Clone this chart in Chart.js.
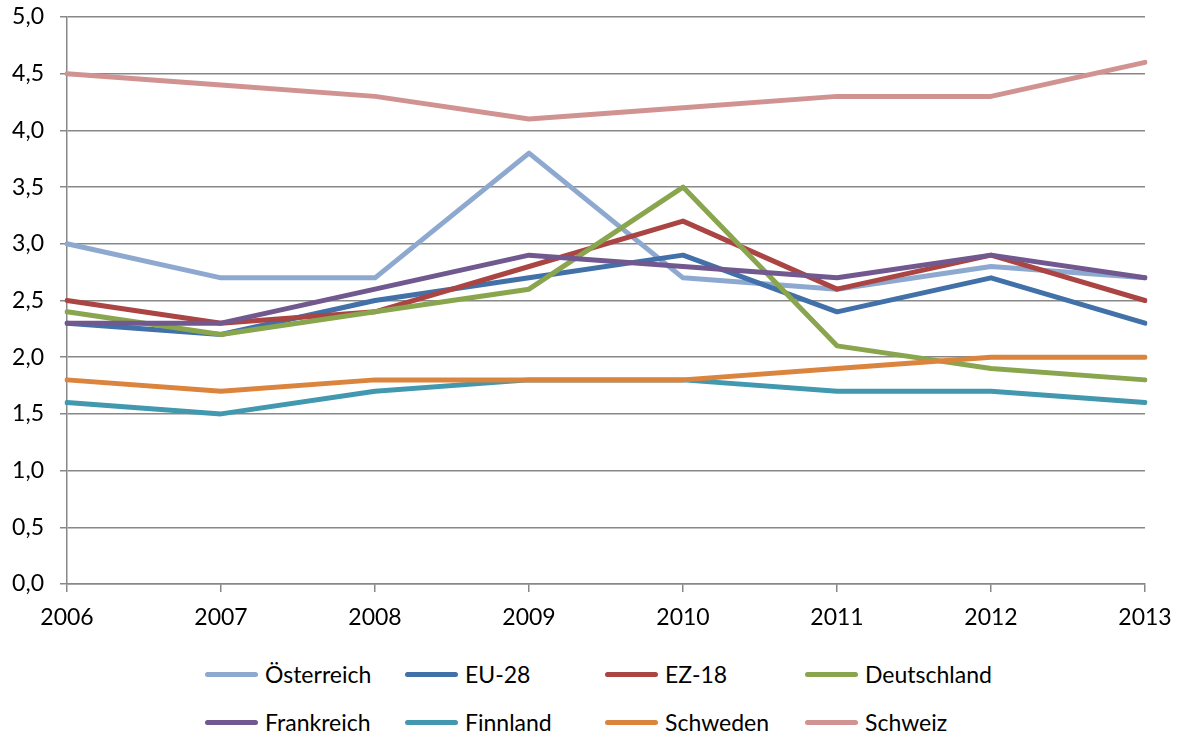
<!DOCTYPE html>
<html>
<head>
<meta charset="utf-8">
<script src="https://cdn.jsdelivr.net/npm/chart.js@4/dist/chart.umd.min.js"></script>
<style>
  body { margin: 0; background: #fff; font-family: Lato, "Open Sans", sans-serif; }
  #wrap { position: absolute; left: 0; top: 0; width: 1178px; height: 640px; }
  #legend { position: absolute; left: 205px; top: 652px; width: 900px;
            display: grid; grid-template-columns: repeat(4, 200px); row-gap: 4px; }
  .item { display: flex; align-items: center; height: 44px; font-size: 23px; color: #000; }
  .swatch { width: 53px; height: 5px; border-radius: 3px; margin-right: 7px; }
</style>
</head>
<body>
<div id="wrap"><canvas id="chart" width="1178" height="640"></canvas></div>
<div id="legend"></div>
<script>
const years = ['2006', '2007', '2008', '2009', '2010', '2011', '2012', '2013'];

const oesterreich = [3.0, 2.7, 2.7, 3.8, 2.7, 2.6, 2.8, 2.7];
const eu28        = [2.3, 2.2, 2.5, 2.7, 2.9, 2.4, 2.7, 2.3];
const ez18        = [2.5, 2.3, 2.4, 2.8, 3.2, 2.6, 2.9, 2.5];
const deutschland = [2.4, 2.2, 2.4, 2.6, 3.5, 2.1, 1.9, 1.8];
const frankreich  = [2.3, 2.3, 2.6, 2.9, 2.8, 2.7, 2.9, 2.7];
const finnland    = [1.6, 1.5, 1.7, 1.8, 1.8, 1.7, 1.7, 1.6];
const schweden    = [1.8, 1.7, 1.8, 1.8, 1.8, 1.9, 2.0, 2.0];
const schweiz     = [4.5, 4.4, 4.3, 4.1, 4.2, 4.3, 4.3, 4.6];

const series = [
  { label: 'Österreich', data: oesterreich, color: '#8EA9CF' },
  { label: 'EU-28', data: eu28, color: '#4270A9' },
  { label: 'EZ-18', data: ez18, color: '#AA4543' },
  { label: 'Deutschland', data: deutschland, color: '#89A54E' },
  { label: 'Frankreich', data: frankreich, color: '#71588F' },
  { label: 'Finnland', data: finnland, color: '#4198AF' },
  { label: 'Schweden', data: schweden, color: '#DB843D' },
  { label: 'Schweiz', data: schweiz, color: '#D09392' }
];

const gridColor = '#888888';
const font = { family: 'Lato, "Open Sans", sans-serif', size: 23 };

const chart = new Chart(document.getElementById('chart'), {
  type: 'line',
  data: {
    labels: years,
    datasets: series.map((s, i) => ({
      label: s.label,
      data: s.data,
      borderColor: s.color,
      backgroundColor: s.color,
      borderWidth: 5,
      borderCapStyle: 'round',
      borderJoinStyle: 'round',
      pointRadius: 0,
      tension: 0,
      // later series drawn on top, like the original
      order: series.length - i
    }))
  },
  options: {
    responsive: false,
    animation: false,
    layout: { padding: { top: 17, right: 33, left: 0, bottom: 0 } },
    plugins: { legend: { display: false }, tooltip: { enabled: false } },
    scales: {
      x: {
        offset: false,
        grid: { drawOnChartArea: false, drawTicks: true, tickLength: 8, color: gridColor, lineWidth: 1.5 },
        border: { color: gridColor, width: 1.5 },
        ticks: { color: '#000', font: font, padding: 12, maxRotation: 0 },
        afterFit: (scale) => {
          scale.height = 56;
          scale.paddingLeft = 0;
          scale.paddingRight = 0;
        }
      },
      y: {
        min: 0,
        max: 5,
        grid: { color: gridColor, lineWidth: 1.5, tickLength: 7 },
        border: { color: gridColor, width: 1.5 },
        ticks: {
          stepSize: 0.5,
          color: '#000',
          font: font,
          padding: 16,
          callback: (v) => v.toFixed(1).replace('.', ',')
        },
        afterFit: (scale) => {
          scale.width = 67;
          scale.paddingTop = 0;
          scale.paddingBottom = 0;
        }
      }
    }
  }
});

// legend in four aligned columns, as in the original
const legend = document.getElementById('legend');
chart.data.datasets.forEach((ds) => {
  const item = document.createElement('div');
  item.className = 'item';
  const sw = document.createElement('span');
  sw.className = 'swatch';
  sw.style.background = ds.borderColor;
  const txt = document.createElement('span');
  txt.textContent = ds.label;
  item.appendChild(sw);
  item.appendChild(txt);
  legend.appendChild(item);
});
</script>
</body>
</html>
